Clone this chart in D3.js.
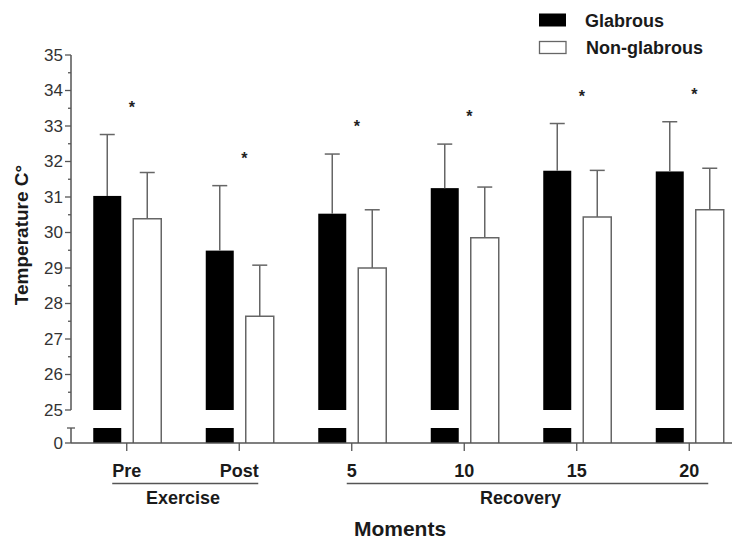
<!DOCTYPE html>
<html>
<head>
<meta charset="utf-8">
<script src="https://cdn.jsdelivr.net/npm/d3@7"></script>
<style>
  html, body { margin: 0; padding: 0; background: #fff; }
  svg { display: block; font-family: "Liberation Sans", Arial, sans-serif; }
</style>
</head>
<body>
<svg id="chart" width="732" height="542"></svg>
<script>
// ---- data ----
const categories = ["Pre", "Post", "5", "10", "15", "20"];
const glabrousMean = [31.03, 29.49, 30.53, 31.25, 31.74, 31.72];
const glabrousSD   = [1.73, 1.83, 1.68, 1.24, 1.33, 1.40];
const nonGlabrousMean = [30.39, 27.64, 29.0, 29.85, 30.44, 30.64];
const nonGlabrousSD   = [1.30, 1.44, 1.64, 1.43, 1.31, 1.17];
const significant = [true, true, true, true, true, true];
const phaseLabels = ["Exercise", "Recovery"];
const phaseStart = [0, 2];
const phaseEnd = [1, 5];
const yTicksUpper = [25, 26, 27, 28, 29, 30, 31, 32, 33, 34, 35];
const seriesNames = ["Glabrous", "Non-glabrous"];

// ---- layout ----
const svg = d3.select("#chart");
const axisColor = "#555";
const textColor = "#1a1a1a";

const x = d3.scaleBand().domain(categories).range([70.5, 745.5]);
const yUp = d3.scaleLinear().domain([25, 35]).range([410, 55]);
const yLow = d3.scaleLinear().domain([0, 1]).range([443, 428]);
const axisX = 71;
const center = c => x(c) + x.bandwidth() / 2;

const bw = 28;
const gOff = -33.5, nOff = 6.5;

// ---- bars ----
const g = svg.append("g");
categories.forEach((c, i) => {
  const cx = center(c);
  g.append("rect").attr("x", cx + gOff).attr("width", bw)
    .attr("y", yUp(glabrousMean[i])).attr("height", yUp(25) - yUp(glabrousMean[i]))
    .attr("fill", "#000");
  g.append("rect").attr("x", cx + gOff).attr("width", bw)
    .attr("y", yLow(1)).attr("height", yLow(0) - yLow(1))
    .attr("fill", "#000");
  const x0 = cx + nOff, x1 = cx + nOff + bw, yt = yUp(nonGlabrousMean[i]), yb = yLow(0);
  g.append("path")
    .attr("d", `M${x0},${yb}V${yt}H${x1}V${yb}`)
    .attr("fill", "#fff").attr("stroke", "#666").attr("stroke-width", 1.5);
});

// ---- error bars ----
function errBar(cx, mean, sd) {
  const yt = yUp(mean + sd);
  g.append("line").attr("x1", cx).attr("x2", cx).attr("y1", yUp(mean)).attr("y2", yt)
    .attr("stroke", "#666").attr("stroke-width", 1.5);
  g.append("line").attr("x1", cx - 7.5).attr("x2", cx + 7.5).attr("y1", yt).attr("y2", yt)
    .attr("stroke", "#666").attr("stroke-width", 1.5);
}
categories.forEach((c, i) => {
  const cx = center(c);
  errBar(cx + gOff + bw / 2, glabrousMean[i], glabrousSD[i]);
  errBar(cx + nOff + bw / 2, nonGlabrousMean[i], nonGlabrousSD[i]);
});

// ---- asterisks ----
categories.forEach((c, i) => {
  if (!significant[i]) return;
  const yc = yUp(glabrousMean[i] + glabrousSD[i]) - 31;
  svg.append("text").attr("x", center(c) + 5).attr("y", yc + 9)
    .attr("text-anchor", "middle").attr("font-size", 16).attr("font-weight", "bold")
    .attr("fill", "#222").text("*");
});

// ---- y axis upper ----
const ya = svg.append("g");
ya.append("line").attr("x1", axisX).attr("x2", axisX).attr("y1", yUp(35)).attr("y2", yUp(25))
  .attr("stroke", axisColor).attr("stroke-width", 1.5);
d3.range(25, 35.01, 0.5).forEach(v => {
  const major = Number.isInteger(v);
  ya.append("line").attr("x1", axisX - (major ? 6 : 3)).attr("x2", axisX)
    .attr("y1", yUp(v)).attr("y2", yUp(v)).attr("stroke", axisColor).attr("stroke-width", 1.3);
});
yTicksUpper.forEach(v => {
  ya.append("text").attr("x", axisX - 8).attr("y", yUp(v)).attr("dy", "0.35em")
    .attr("text-anchor", "end").attr("font-size", 17).attr("fill", "#333").text(v);
});
ya.append("line").attr("x1", axisX).attr("x2", axisX).attr("y1", yLow(1)).attr("y2", yLow(0))
  .attr("stroke", axisColor).attr("stroke-width", 1.5);
ya.append("line").attr("x1", axisX - 4).attr("x2", axisX + 4).attr("y1", yLow(1)).attr("y2", yLow(1))
  .attr("stroke", axisColor).attr("stroke-width", 1.3);
ya.append("line").attr("x1", axisX - 6).attr("x2", axisX).attr("y1", yLow(0)).attr("y2", yLow(0))
  .attr("stroke", axisColor).attr("stroke-width", 1.3);
ya.append("text").attr("x", axisX - 8).attr("y", yLow(0)).attr("dy", "0.35em")
  .attr("text-anchor", "end").attr("font-size", 17).attr("fill", "#333").text("0");

// y title
svg.append("text").attr("transform", `translate(28,235) rotate(-90)`)
  .attr("text-anchor", "middle").attr("font-size", 19).attr("font-weight", "bold")
  .attr("fill", textColor).text("Temperature C°");

// ---- x axis ----
const xa = svg.append("g");
xa.append("line").attr("x1", axisX).attr("x2", 732).attr("y1", yLow(0)).attr("y2", yLow(0))
  .attr("stroke", axisColor).attr("stroke-width", 1.5);
const labelBoxes = [];
categories.forEach((c, i) => {
  const cx = center(c);
  xa.append("line").attr("x1", cx).attr("x2", cx).attr("y1", yLow(0)).attr("y2", yLow(0) + 8)
    .attr("stroke", axisColor).attr("stroke-width", 1.3);
  const t = xa.append("text").attr("x", cx).attr("y", 477)
    .attr("text-anchor", "middle").attr("font-size", 18).attr("font-weight", "bold")
    .attr("fill", textColor).text(c);
  labelBoxes.push(t.node().getBBox());
});

// phase brackets
phaseLabels.forEach((p, k) => {
  const left = labelBoxes[phaseStart[k]].x;
  const right = center(categories[phaseEnd[k]]) + 19;
  xa.append("line").attr("x1", left).attr("x2", right).attr("y1", 483.5).attr("y2", 483.5)
    .attr("stroke", axisColor).attr("stroke-width", 1.5);
  xa.append("text").attr("x", (center(categories[phaseStart[k]]) + center(categories[phaseEnd[k]])) / 2)
    .attr("y", 504).attr("text-anchor", "middle").attr("font-size", 18).attr("font-weight", "bold")
    .attr("fill", textColor).text(p);
});

// x title
svg.append("text").attr("x", 400).attr("y", 536).attr("text-anchor", "middle")
  .attr("font-size", 21).attr("font-weight", "bold").attr("fill", textColor).text("Moments");

// ---- legend ----
const lg = svg.append("g");
lg.append("rect").attr("x", 539).attr("y", 13.5).attr("width", 27).attr("height", 13).attr("fill", "#000");
lg.append("rect").attr("x", 539.5).attr("y", 41.5).attr("width", 26.5).attr("height", 12)
  .attr("fill", "#fff").attr("stroke", "#666").attr("stroke-width", 1.3);
lg.append("text").attr("x", 585).attr("y", 27).attr("font-size", 18).attr("font-weight", "bold")
  .attr("fill", textColor).text(seriesNames[0]);
lg.append("text").attr("x", 586).attr("y", 53.5).attr("font-size", 18).attr("font-weight", "bold")
  .attr("fill", textColor).text(seriesNames[1]);
</script>
</body>
</html>
